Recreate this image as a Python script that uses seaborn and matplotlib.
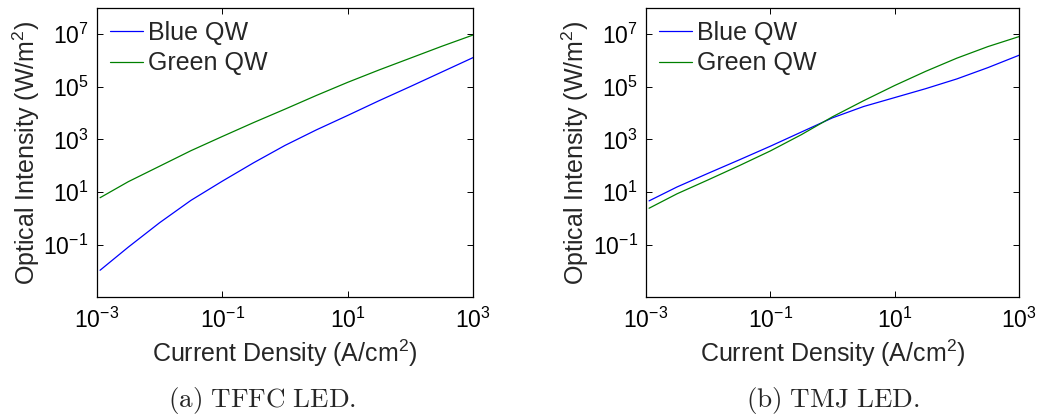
import numpy as np
import pandas as pd
import matplotlib
matplotlib.use("Agg")
import matplotlib.pyplot as plt
from matplotlib.ticker import NullLocator, FixedLocator
import seaborn as sns

# Current density sample points (A/cm^2), half-decade steps
current_density = [1.12e-3, 3.16e-3, 1e-2, 3.16e-2, 1e-1, 3.16e-1, 1.0,
                   3.16, 10.0, 31.6, 100.0, 316.0, 1000.0]

# log10 of optical intensity (W/m^2)
tffc_blue_log = [-1.98, -1.10, -0.17, 0.68, 1.41, 2.11, 2.77,
                 3.36, 3.91, 4.47, 5.01, 5.56, 6.11]
tffc_green_log = [0.78, 1.39, 1.98, 2.57, 3.11, 3.64, 4.15,
                  4.67, 5.17, 5.64, 6.09, 6.54, 6.97]
tmj_blue_log = [0.66, 1.19, 1.71, 2.22, 2.74, 3.28, 3.82,
                4.25, 4.59, 4.93, 5.30, 5.73, 6.20]
tmj_green_log = [0.38, 0.93, 1.46, 2.00, 2.56, 3.18, 3.86,
                 4.47, 5.05, 5.59, 6.09, 6.53, 6.91]

series_names = ["Blue QW", "Green QW"]
panel_captions = [r"$\mathrm{(a)\ TFFC\ LED.}$", r"$\mathrm{(b)\ TMJ\ LED.}$"]
caption_x = [0.2505, 0.7965]
x_ticks = [1e-3, 1e-1, 1e1, 1e3]
y_ticks = [1e-1, 1e1, 1e3, 1e5, 1e7]

sns.set_theme(style="ticks")
plt.rcParams["font.family"] = ["Liberation Sans", "DejaVu Sans"]
plt.rcParams["mathtext.fontset"] = "custom"
plt.rcParams["mathtext.rm"] = "Liberation Sans"
plt.rcParams["mathtext.it"] = "Liberation Sans:italic"
plt.rcParams["mathtext.bf"] = "Liberation Sans:bold"

palette = {"Blue QW": (0.0, 0.0, 1.0), "Green QW": (0.0, 0.5, 0.0)}


def make_frame(blue_log, green_log):
    frames = []
    for name, vals in zip(series_names, [blue_log, green_log]):
        frames.append(pd.DataFrame({
            "J": current_density,
            "I": 10.0 ** np.asarray(vals),
            "series": name,
        }))
    return pd.concat(frames, ignore_index=True)


fig = plt.figure(figsize=(10.46, 4.19), dpi=100)
ax_a = fig.add_axes([0.0927, 0.291, 0.3595, 0.690])
ax_b = fig.add_axes([0.6176, 0.291, 0.3566, 0.690])

datasets = [(tffc_blue_log, tffc_green_log), (tmj_blue_log, tmj_green_log)]

for ax, (blue, green), caption, cx in zip([ax_a, ax_b], datasets,
                                          panel_captions, caption_x):
    df = make_frame(blue, green)
    sns.lineplot(data=df, x="J", y="I", hue="series", palette=palette,
                 hue_order=series_names, linewidth=0.9, ax=ax,
                 estimator=None, sort=False)
    ax.set_xscale("log")
    ax.set_yscale("log")
    ax.set_xlim(1e-3, 1e3)
    ax.set_ylim(1e-3, 1e8)
    ax.xaxis.set_major_locator(FixedLocator(x_ticks))
    ax.yaxis.set_major_locator(FixedLocator(y_ticks))
    ax.xaxis.set_minor_locator(NullLocator())
    ax.yaxis.set_minor_locator(NullLocator())
    ax.tick_params(which="both", direction="in", top=True, right=True,
                   length=4, width=0.7, labelsize=16.5, pad=6, colors="black")
    ax.tick_params(axis="x", pad=8)
    for s in ax.spines.values():
        s.set_visible(True)
        s.set_linewidth(0.9)
        s.set_color("black")
    ax.set_xlabel("Current Density (A/cm$^2$)", fontsize=18, labelpad=3)
    ax.set_ylabel("Optical Intensity (W/m$^2$)", fontsize=18, labelpad=1)
    ax.legend(title=None, frameon=False, loc="upper left", fontsize=18,
              handlelength=1.32, handletextpad=0.2, borderaxespad=0.12,
              borderpad=0.4, labelspacing=0.26)
    fig.text(cx, 0.043, caption, ha="center", va="center", fontsize=19.5,
             math_fontfamily="cm")

fig.savefig("out.png", dpi=100)
